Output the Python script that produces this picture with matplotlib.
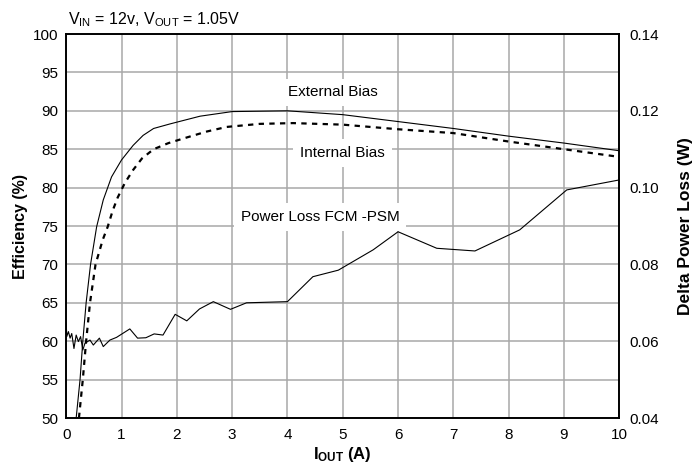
import matplotlib
matplotlib.use('Agg')
import matplotlib.pyplot as plt

plt.rcParams['font.family'] = ['Liberation Sans', 'DejaVu Sans']
plt.rcParams['mathtext.default'] = 'regular'
plt.rcParams['font.size'] = 10

# External bias efficiency (%)
ext_x = [0.18, 0.25, 0.30, 0.36, 0.44, 0.55, 0.67, 0.82, 1.0, 1.21, 1.39,
         1.58, 1.88, 2.42, 3.0, 4.0, 5.0, 6.0, 7.0, 8.0, 9.0, 10.0]
ext_eff = [50, 55, 60, 65, 70, 74.9, 78.4, 81.4, 83.6, 85.5, 86.8,
           87.7, 88.3, 89.3, 89.9, 90.0, 89.5, 88.6, 87.7, 86.7, 85.8, 84.8]

# Internal bias efficiency (%)
int_x = [0.23, 0.30, 0.36, 0.43, 0.53, 0.66, 0.75, 0.84, 0.93, 1.06, 1.21,
         1.37, 1.58, 1.85, 2.12, 2.54, 2.9, 3.5, 4.1, 5.0, 6.0, 7.0, 8.0,
         9.0, 10.0]
int_eff = [50, 55, 60, 65, 70, 73.2, 74.9, 77.0, 78.7, 80.6, 82.3,
           83.8, 85.0, 85.8, 86.4, 87.3, 87.9, 88.3, 88.4, 88.2, 87.6, 87.1,
           86.0, 85.0, 84.0]

# Delta power loss FCM - PSM (W)
loss_x = [0.0, 0.01, 0.04, 0.07, 0.10, 0.14, 0.18, 0.22, 0.26, 0.30, 0.34,
          0.43, 0.49, 0.60, 0.67, 0.79, 0.91, 1.15, 1.29, 1.44, 1.59, 1.75,
          1.97, 2.18, 2.41, 2.66, 2.97, 3.26, 4.0, 4.46, 4.92, 5.55, 6.0,
          6.7, 7.39, 8.2, 9.05, 10.0]
loss_w = [0.0647, 0.0612, 0.0625, 0.0608, 0.0620, 0.0581, 0.0616, 0.0599,
          0.0612, 0.0577, 0.0595, 0.0603, 0.0590, 0.0608, 0.0586, 0.0603,
          0.0610, 0.0632, 0.0608, 0.0609, 0.0619, 0.0616, 0.0670, 0.0653,
          0.0684, 0.0703, 0.0683, 0.0700, 0.0703, 0.0768, 0.0785, 0.0838,
          0.0885, 0.0842, 0.0835, 0.0890, 0.0994, 0.1020]

fig = plt.figure(figsize=(6.97, 4.66), dpi=100)
ax = fig.add_axes([0.095, 0.103, 0.7935, 0.824])
ax2 = ax.twinx()

ax.plot(ext_x, ext_eff, color='black', lw=0.8, zorder=3)
ax.plot(int_x, int_eff, color='black', lw=1.6, dashes=(2.4, 2.4), zorder=3)
ax2.plot(loss_x, loss_w, color='black', lw=0.8, zorder=3)

ax.set_xlim(0, 10)
ax.set_ylim(50, 100)
ax2.set_ylim(0.04, 0.14)
ax.set_xticks(range(0, 11))
ax.set_yticks(range(50, 101, 5))
ax2.set_yticks([0.04, 0.06, 0.08, 0.10, 0.12, 0.14])
ax2.set_yticklabels(['0.04', '0.06', '0.08', '0.10', '0.12', '0.14'])

ax.grid(True, color='#a8a8a8', lw=1.1)
ax.set_axisbelow(True)
for a in (ax, ax2):
    a.tick_params(length=0, labelsize=11, pad=7)
    for s in a.spines.values():
        s.set_linewidth(1.2)
ax.tick_params(axis='y', pad=6)
ax2.tick_params(axis='y', pad=7)

ax.set_ylabel('Efficiency (%)', fontweight='bold', fontsize=11.5, labelpad=3)
ax2.set_ylabel('Delta Power Loss (W)', fontweight='bold', fontsize=12.5,
               labelpad=14)
ax.set_xlabel(r'I$_{OUT}$ (A)', fontweight='bold', fontsize=12, labelpad=2)

box = dict(facecolor='white', edgecolor='none', pad=5)
ax.text(4.82, 92.4, 'External Bias', ha='center', va='center', fontsize=11,
        bbox=box, zorder=4)
ax.text(5.0, 84.5, 'Internal Bias', ha='center', va='center', fontsize=11,
        bbox=box, zorder=4)
ax.text(4.59, 76.2, 'Power Loss FCM -PSM', ha='center', va='center',
        fontsize=11, bbox=box, zorder=4)

fig.text(0.097, 0.958, r'V$_{IN}$ = 12v, V$_{OUT}$ = 1.05V', fontsize=11.5,
         va='center', ha='left')

fig.savefig('out.png', dpi=100)
